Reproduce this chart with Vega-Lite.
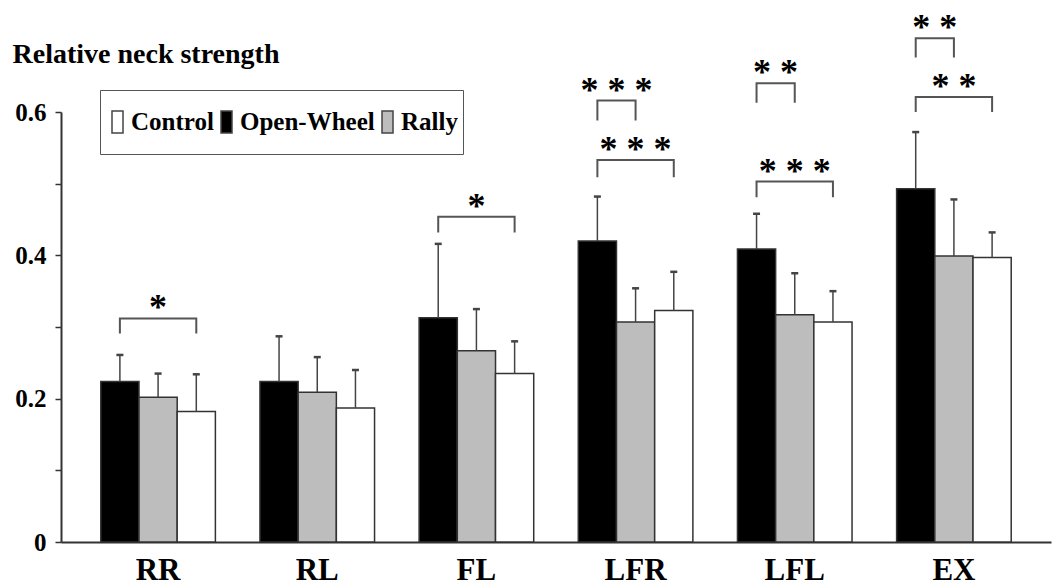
{
  "$schema": "https://vega.github.io/schema/vega-lite/v6.json",
  "width": 990,
  "height": 430,
  "autosize": {"type": "none"},
  "padding": {"left": 61, "top": 112, "right": 4, "bottom": 43},
  "background": "white",
  "config": {"view": {"stroke": null}, "font": "Liberation Serif"},
  "datasets": {
    "bars": [
      {"group": "RR", "series": "Open-Wheel", "mean": 0.224, "upper": 0.261},
      {"group": "RR", "series": "Rally", "mean": 0.202, "upper": 0.235},
      {"group": "RR", "series": "Control", "mean": 0.182, "upper": 0.234},
      {"group": "RL", "series": "Open-Wheel", "mean": 0.224, "upper": 0.287},
      {"group": "RL", "series": "Rally", "mean": 0.209, "upper": 0.258},
      {"group": "RL", "series": "Control", "mean": 0.187, "upper": 0.24},
      {"group": "FL", "series": "Open-Wheel", "mean": 0.313, "upper": 0.416},
      {"group": "FL", "series": "Rally", "mean": 0.267, "upper": 0.325},
      {"group": "FL", "series": "Control", "mean": 0.235, "upper": 0.28},
      {"group": "LFR", "series": "Open-Wheel", "mean": 0.42, "upper": 0.482},
      {"group": "LFR", "series": "Rally", "mean": 0.307, "upper": 0.354},
      {"group": "LFR", "series": "Control", "mean": 0.323, "upper": 0.377},
      {"group": "LFL", "series": "Open-Wheel", "mean": 0.409, "upper": 0.458},
      {"group": "LFL", "series": "Rally", "mean": 0.317, "upper": 0.375},
      {"group": "LFL", "series": "Control", "mean": 0.307, "upper": 0.35},
      {"group": "EX", "series": "Open-Wheel", "mean": 0.493, "upper": 0.572},
      {"group": "EX", "series": "Rally", "mean": 0.399, "upper": 0.478},
      {"group": "EX", "series": "Control", "mean": 0.397, "upper": 0.432}
    ],
    "brackets": [
      {"id": "RR-c", "group": "RR", "series": "Open-Wheel", "yv": 0.291, "o": 1},
      {"id": "RR-c", "group": "RR", "series": "Open-Wheel", "yv": 0.312, "o": 2},
      {"id": "RR-c", "group": "RR", "series": "Control", "yv": 0.312, "o": 3},
      {"id": "RR-c", "group": "RR", "series": "Control", "yv": 0.291, "o": 4},
      {"id": "FL-c", "group": "FL", "series": "Open-Wheel", "yv": 0.432, "o": 1},
      {"id": "FL-c", "group": "FL", "series": "Open-Wheel", "yv": 0.454, "o": 2},
      {"id": "FL-c", "group": "FL", "series": "Control", "yv": 0.454, "o": 3},
      {"id": "FL-c", "group": "FL", "series": "Control", "yv": 0.432, "o": 4},
      {"id": "LFR-r", "group": "LFR", "series": "Open-Wheel", "yv": 0.588, "o": 1},
      {"id": "LFR-r", "group": "LFR", "series": "Open-Wheel", "yv": 0.616, "o": 2},
      {"id": "LFR-r", "group": "LFR", "series": "Rally", "yv": 0.616, "o": 3},
      {"id": "LFR-r", "group": "LFR", "series": "Rally", "yv": 0.588, "o": 4},
      {"id": "LFR-c", "group": "LFR", "series": "Open-Wheel", "yv": 0.509, "o": 1},
      {"id": "LFR-c", "group": "LFR", "series": "Open-Wheel", "yv": 0.533, "o": 2},
      {"id": "LFR-c", "group": "LFR", "series": "Control", "yv": 0.533, "o": 3},
      {"id": "LFR-c", "group": "LFR", "series": "Control", "yv": 0.509, "o": 4},
      {"id": "LFL-r", "group": "LFL", "series": "Open-Wheel", "yv": 0.613, "o": 1},
      {"id": "LFL-r", "group": "LFL", "series": "Open-Wheel", "yv": 0.64, "o": 2},
      {"id": "LFL-r", "group": "LFL", "series": "Rally", "yv": 0.64, "o": 3},
      {"id": "LFL-r", "group": "LFL", "series": "Rally", "yv": 0.613, "o": 4},
      {"id": "LFL-c", "group": "LFL", "series": "Open-Wheel", "yv": 0.481, "o": 1},
      {"id": "LFL-c", "group": "LFL", "series": "Open-Wheel", "yv": 0.503, "o": 2},
      {"id": "LFL-c", "group": "LFL", "series": "Control", "yv": 0.503, "o": 3},
      {"id": "LFL-c", "group": "LFL", "series": "Control", "yv": 0.481, "o": 4},
      {"id": "EX-r", "group": "EX", "series": "Open-Wheel", "yv": 0.676, "o": 1},
      {"id": "EX-r", "group": "EX", "series": "Open-Wheel", "yv": 0.703, "o": 2},
      {"id": "EX-r", "group": "EX", "series": "Rally", "yv": 0.703, "o": 3},
      {"id": "EX-r", "group": "EX", "series": "Rally", "yv": 0.676, "o": 4},
      {"id": "EX-c", "group": "EX", "series": "Open-Wheel", "yv": 0.6, "o": 1},
      {"id": "EX-c", "group": "EX", "series": "Open-Wheel", "yv": 0.621, "o": 2},
      {"id": "EX-c", "group": "EX", "series": "Control", "yv": 0.621, "o": 3},
      {"id": "EX-c", "group": "EX", "series": "Control", "yv": 0.6, "o": 4}
    ],
    "starsWide": [
      {"group": "RR", "series": "Rally", "yv": 0.312, "label": "*"},
      {"group": "FL", "series": "Rally", "yv": 0.454, "label": "*"},
      {"group": "LFR", "series": "Rally", "yv": 0.533, "label": "* * *"},
      {"group": "LFL", "series": "Rally", "yv": 0.503, "label": "* * *"},
      {"group": "EX", "series": "Rally", "yv": 0.621, "label": "* *"}
    ],
    "starsNarrow": [
      {"group": "LFR", "series": "Open-Wheel", "yv": 0.616, "label": "* * *"},
      {"group": "LFL", "series": "Open-Wheel", "yv": 0.64, "label": "* *"},
      {"group": "EX", "series": "Open-Wheel", "yv": 0.703, "label": "* *"}
    ]
  },
  "layer": [
    {
      "data": {"name": "bars"},
      "mark": {"type": "bar", "stroke": "#333", "strokeWidth": 1.5},
      "encoding": {
        "x": {
          "field": "group",
          "type": "nominal",
          "sort": ["RR", "RL", "FL", "LFR", "LFL", "EX"],
          "scale": {"domain": ["RR", "RL", "FL", "LFR", "LFL", "EX"], "paddingInner": 0.28, "paddingOuter": 0.25},
          "axis": {
            "title": null,
            "labelAngle": 0,
            "ticks": false,
            "tickSize": 0,
            "domainColor": "#333",
            "domainWidth": 2,
            "labelFont": "Liberation Serif",
            "labelFontSize": 31,
            "labelFontWeight": "bold",
            "labelColor": "black",
            "labelPadding": 13
          }
        },
        "xOffset": {
          "field": "series",
          "type": "nominal",
          "scale": {"domain": ["Open-Wheel", "Rally", "Control"]}
        },
        "y": {
          "field": "mean",
          "type": "quantitative",
          "scale": {"domain": [0, 0.6], "nice": false},
          "axis": {
            "values": [0, 0.1, 0.2, 0.3, 0.4, 0.5, 0.6],
            "labelExpr": "round(datum.value * 10) % 2 == 0 ? format(datum.value, '.1~f') : ''",
            "grid": false,
            "domainColor": "#333",
            "domainWidth": 2,
            "tickColor": "#333",
            "tickWidth": 1.5,
            "tickSize": 6,
            "labelFont": "Liberation Serif",
            "labelFontSize": 25,
            "labelFontWeight": "bold",
            "labelColor": "black",
            "labelPadding": 9,
            "title": "Relative neck strength",
            "titleAngle": 0,
            "titleAlign": "left",
            "titleBaseline": "alphabetic",
            "titleX": -49,
            "titleY": -50,
            "titleFont": "Liberation Serif",
            "titleFontSize": 28,
            "titleFontWeight": "bold",
            "titleColor": "black"
          }
        },
        "fill": {
          "field": "series",
          "type": "nominal",
          "scale": {"domain": ["Control", "Open-Wheel", "Rally"], "range": ["#ffffff", "#000000", "#bdbdbd"]},
          "legend": {
            "title": null,
            "orient": "none",
            "legendX": 39,
            "legendY": -22,
            "direction": "horizontal",
            "strokeColor": "#555",
            "padding": 5,
            "symbolType": "M-1,-2H1V2H-1Z",
            "symbolSize": 121,
            "symbolStrokeColor": "#444",
            "symbolStrokeWidth": 1.5,
            "labelFont": "Liberation Serif",
            "labelFontSize": 25,
            "labelFontWeight": "bold",
            "labelColor": "black",
            "labelOffset": 1,
            "columnPadding": 0,
            "clipHeight": 54
          }
        }
      }
    },
    {
      "data": {"name": "bars"},
      "mark": {"type": "rule", "color": "#444", "strokeWidth": 1.5},
      "encoding": {
        "x": {"field": "group", "type": "nominal"},
        "xOffset": {"field": "series", "type": "nominal"},
        "y": {"field": "mean", "type": "quantitative", "title": "Relative neck strength"},
        "y2": {"field": "upper"}
      }
    },
    {
      "data": {"name": "bars"},
      "mark": {"type": "point", "shape": "M-1,0H1", "size": 49, "filled": false, "stroke": "#444", "strokeWidth": 2.5, "opacity": 1},
      "encoding": {
        "x": {"field": "group", "type": "nominal"},
        "xOffset": {"field": "series", "type": "nominal"},
        "y": {"field": "upper", "type": "quantitative", "title": "Relative neck strength"}
      }
    },
    {
      "data": {"name": "brackets"},
      "mark": {"type": "line", "color": "#555", "strokeWidth": 2},
      "encoding": {
        "x": {"field": "group", "type": "nominal"},
        "xOffset": {"field": "series", "type": "nominal"},
        "y": {"field": "yv", "type": "quantitative", "title": "Relative neck strength"},
        "detail": {"field": "id"},
        "order": {"field": "o", "type": "quantitative"}
      }
    },
    {
      "data": {"name": "starsWide"},
      "mark": {"type": "text", "font": "Liberation Serif", "fontWeight": "bold", "fontSize": 36, "baseline": "alphabetic", "align": "center", "dy": 1, "color": "black"},
      "encoding": {
        "x": {"field": "group", "type": "nominal"},
        "xOffset": {"field": "series", "type": "nominal"},
        "y": {"field": "yv", "type": "quantitative", "title": "Relative neck strength"},
        "text": {"field": "label"}
      }
    },
    {
      "data": {"name": "starsNarrow"},
      "mark": {"type": "text", "font": "Liberation Serif", "fontWeight": "bold", "fontSize": 36, "baseline": "alphabetic", "align": "center", "dx": 19, "dy": 1, "color": "black"},
      "encoding": {
        "x": {"field": "group", "type": "nominal"},
        "xOffset": {"field": "series", "type": "nominal"},
        "y": {"field": "yv", "type": "quantitative", "title": "Relative neck strength"},
        "text": {"field": "label"}
      }
    }
  ]
}
